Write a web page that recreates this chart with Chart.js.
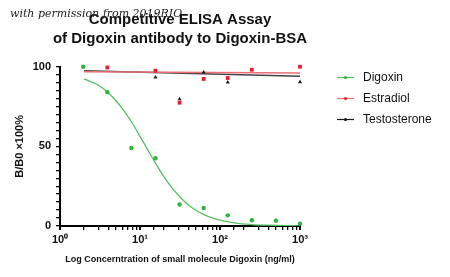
<!DOCTYPE html>
<html>
<head>
<meta charset="utf-8">
<script src="https://cdn.jsdelivr.net/npm/chart.js@4.4.1/dist/chart.umd.min.js"></script>
<style>
  html,body{margin:0;padding:0;background:#fff;}
  #wrap{width:450px;height:277px;position:relative;}
</style>
</head>
<body>
<div id="wrap"><canvas id="c" width="450" height="277"></canvas></div>
<script>
// concentrations (ng/ml), log x axis
const conc = [1.95, 3.9, 7.8, 15.6, 31.25, 62.5, 125, 250, 500, 1000];
const digoxin = [100, 84, 49, 42.5, 13.5, 11.3, 6.7, 3.6, 3.3, 1.5];
const estradiol = [null, 99.5, null, 97.5, 77.4, 92.3, 92.9, 98.1, null, 100];
const testosterone = [null, null, null, 93.3, 79.7, 96.5, 90.2, null, null, 90.4];

// fitted curves
const digFitX = [2, 3, 4, 5, 6, 8, 10, 12, 15, 20, 25, 32, 40, 50, 64, 80, 100, 150, 250, 400, 1000];
const digFitY = [92.3, 88.5, 83.6, 78.6, 73.8, 64.5, 56.3, 49.4, 40.9, 30.8, 24.1, 17.9, 13.4, 9.9, 7.0, 5.1, 3.7, 2.0, 0.9, 0.5, 0.1];
const estFitX = [2, 1000];
const estFitY = [96.8, 96.0];
const tesFitX = [2, 1000];
const tesFitY = [97.4, 94.0];

const xTickLabels = {1: '10⁰', 10: '10¹', 100: '10²', 1000: '10³'};
const yTickLabels = [0, 50, 100];

const legendItems = ['Digoxin', 'Estradiol', 'Testosterone'];
const GREEN = '#2fb53a', GREEN_LINE = '#55c060', RED = '#e3222e', RED_LINE = '#ec6d75', BLACK = '#1a1a1a';
const FONT = 'Arial, "Liberation Sans", sans-serif';

const pts = (xs, ys) => xs.map((x, i) => ({x: x, y: ys[i]})).filter(p => p.y !== null);

// extra text: title, watermark, axis titles, legend
const textPlugin = {
  id: 'texts',
  afterDraw(chart){
    const ctx = chart.ctx;
    const area = chart.chartArea;
    ctx.save();
    ctx.fillStyle = '#111';
    ctx.textAlign = 'center';
    ctx.textBaseline = 'alphabetic';
    ctx.font = 'bold 15px ' + FONT;
    const cx = (area.left + area.right) / 2;
    ctx.fillText('Competitive ELISA Assay', cx, 24);
    ctx.fillText('of Digoxin antibody to Digoxin-BSA', cx, 43);

    // watermark
    ctx.textAlign = 'left';
    ctx.font = 'italic 11px "DejaVu Serif", serif';
    ctx.fillStyle = '#222';
    ctx.fillText('with permission from 2019RIO', 10, 17);

    // axis titles
    ctx.fillStyle = '#111';
    ctx.textAlign = 'center';
    ctx.font = 'bold 9px ' + FONT;
    ctx.fillText('Log Concerntration of small molecule Digoxin (ng/ml)', cx, 262);
    ctx.save();
    ctx.translate(23, (area.top + area.bottom) / 2);
    ctx.rotate(-Math.PI / 2);
    ctx.font = 'bold 11px ' + FONT;
    ctx.fillText('B/B0 ×100%', 0, 0);
    ctx.restore();

    // legend
    const colors = [[GREEN_LINE, GREEN], [RED_LINE, RED], [BLACK, BLACK]];
    ctx.font = '12px ' + FONT;
    ctx.textAlign = 'left';
    ctx.textBaseline = 'middle';
    legendItems.forEach((name, i) => {
      const y = 77.5 + i * 21;
      ctx.strokeStyle = colors[i][0];
      ctx.lineWidth = 1.2;
      ctx.beginPath(); ctx.moveTo(337, y); ctx.lineTo(354, y); ctx.stroke();
      ctx.fillStyle = colors[i][1];
      ctx.beginPath(); ctx.arc(345.5, y, 1.6, 0, Math.PI * 2); ctx.fill();
      ctx.fillStyle = '#111';
      ctx.fillText(name, 363, y);
    });
    ctx.restore();
  }
};

new Chart(document.getElementById('c'), {
  type: 'line',
  data: {
    datasets: [
      {label: 'Digoxin', data: pts(conc, digoxin), showLine: false, pointStyle: 'circle', pointRadius: 2.2, backgroundColor: GREEN, borderColor: GREEN, borderWidth: 0, clip: false, order: 1},
      {label: 'Digoxin fit', data: pts(digFitX, digFitY), borderColor: GREEN_LINE, borderWidth: 1.3, pointRadius: 0, cubicInterpolationMode: 'monotone', order: 6},
      {label: 'Estradiol', data: pts(conc, estradiol), showLine: false, pointStyle: 'rect', pointRadius: 2.7, backgroundColor: RED, borderColor: RED, borderWidth: 0, clip: false, order: 2},
      {label: 'Estradiol fit', data: pts(estFitX, estFitY), borderColor: RED_LINE, borderWidth: 1.5, pointRadius: 0, order: 4},
      {label: 'Testosterone', data: pts(conc, testosterone), showLine: false, pointStyle: 'triangle', pointRadius: 2.4, backgroundColor: BLACK, borderColor: BLACK, borderWidth: 0, clip: false, order: 3},
      {label: 'Testosterone fit', data: pts(tesFitX, tesFitY), borderColor: '#444', borderWidth: 1.5, pointRadius: 0, order: 5}
    ]
  },
  options: {
    responsive: false,
    animation: false,
    layout: {padding: {top: 66.7, right: 150, left: 0, bottom: 0}},
    plugins: {legend: {display: false}, tooltip: {enabled: false}},
    scales: {
      x: {
        type: 'logarithmic',
        min: 1, max: 1000,
        afterFit: s => { s.height = 51; },
        border: {display: true, color: '#000', width: 2},
        grid: {drawOnChartArea: false, drawTicks: true, tickLength: 4, color: '#000',
               lineWidth: c => (c.tick && xTickLabels[c.tick.value]) ? 2 : 1.3},
        ticks: {
          autoSkip: false, maxRotation: 0, padding: 3,
          color: '#111', font: {family: FONT, size: 11, weight: 'bold'},
          callback: v => xTickLabels[v] || ''
        }
      },
      y: {
        min: 0, max: 100,
        afterFit: s => { s.width = 60; },
        border: {display: true, color: '#000', width: 2},
        grid: {drawOnChartArea: false, drawTicks: true, tickLength: 4, color: '#000', lineWidth: 1.3},
        ticks: {
          stepSize: 5, autoSkip: false, padding: 5,
          color: '#111', font: {family: FONT, size: 11, weight: 'bold'},
          callback: v => yTickLabels.includes(v) ? v : ''
        }
      }
    }
  },
  plugins: [textPlugin]
});
</script>
</body>
</html>
